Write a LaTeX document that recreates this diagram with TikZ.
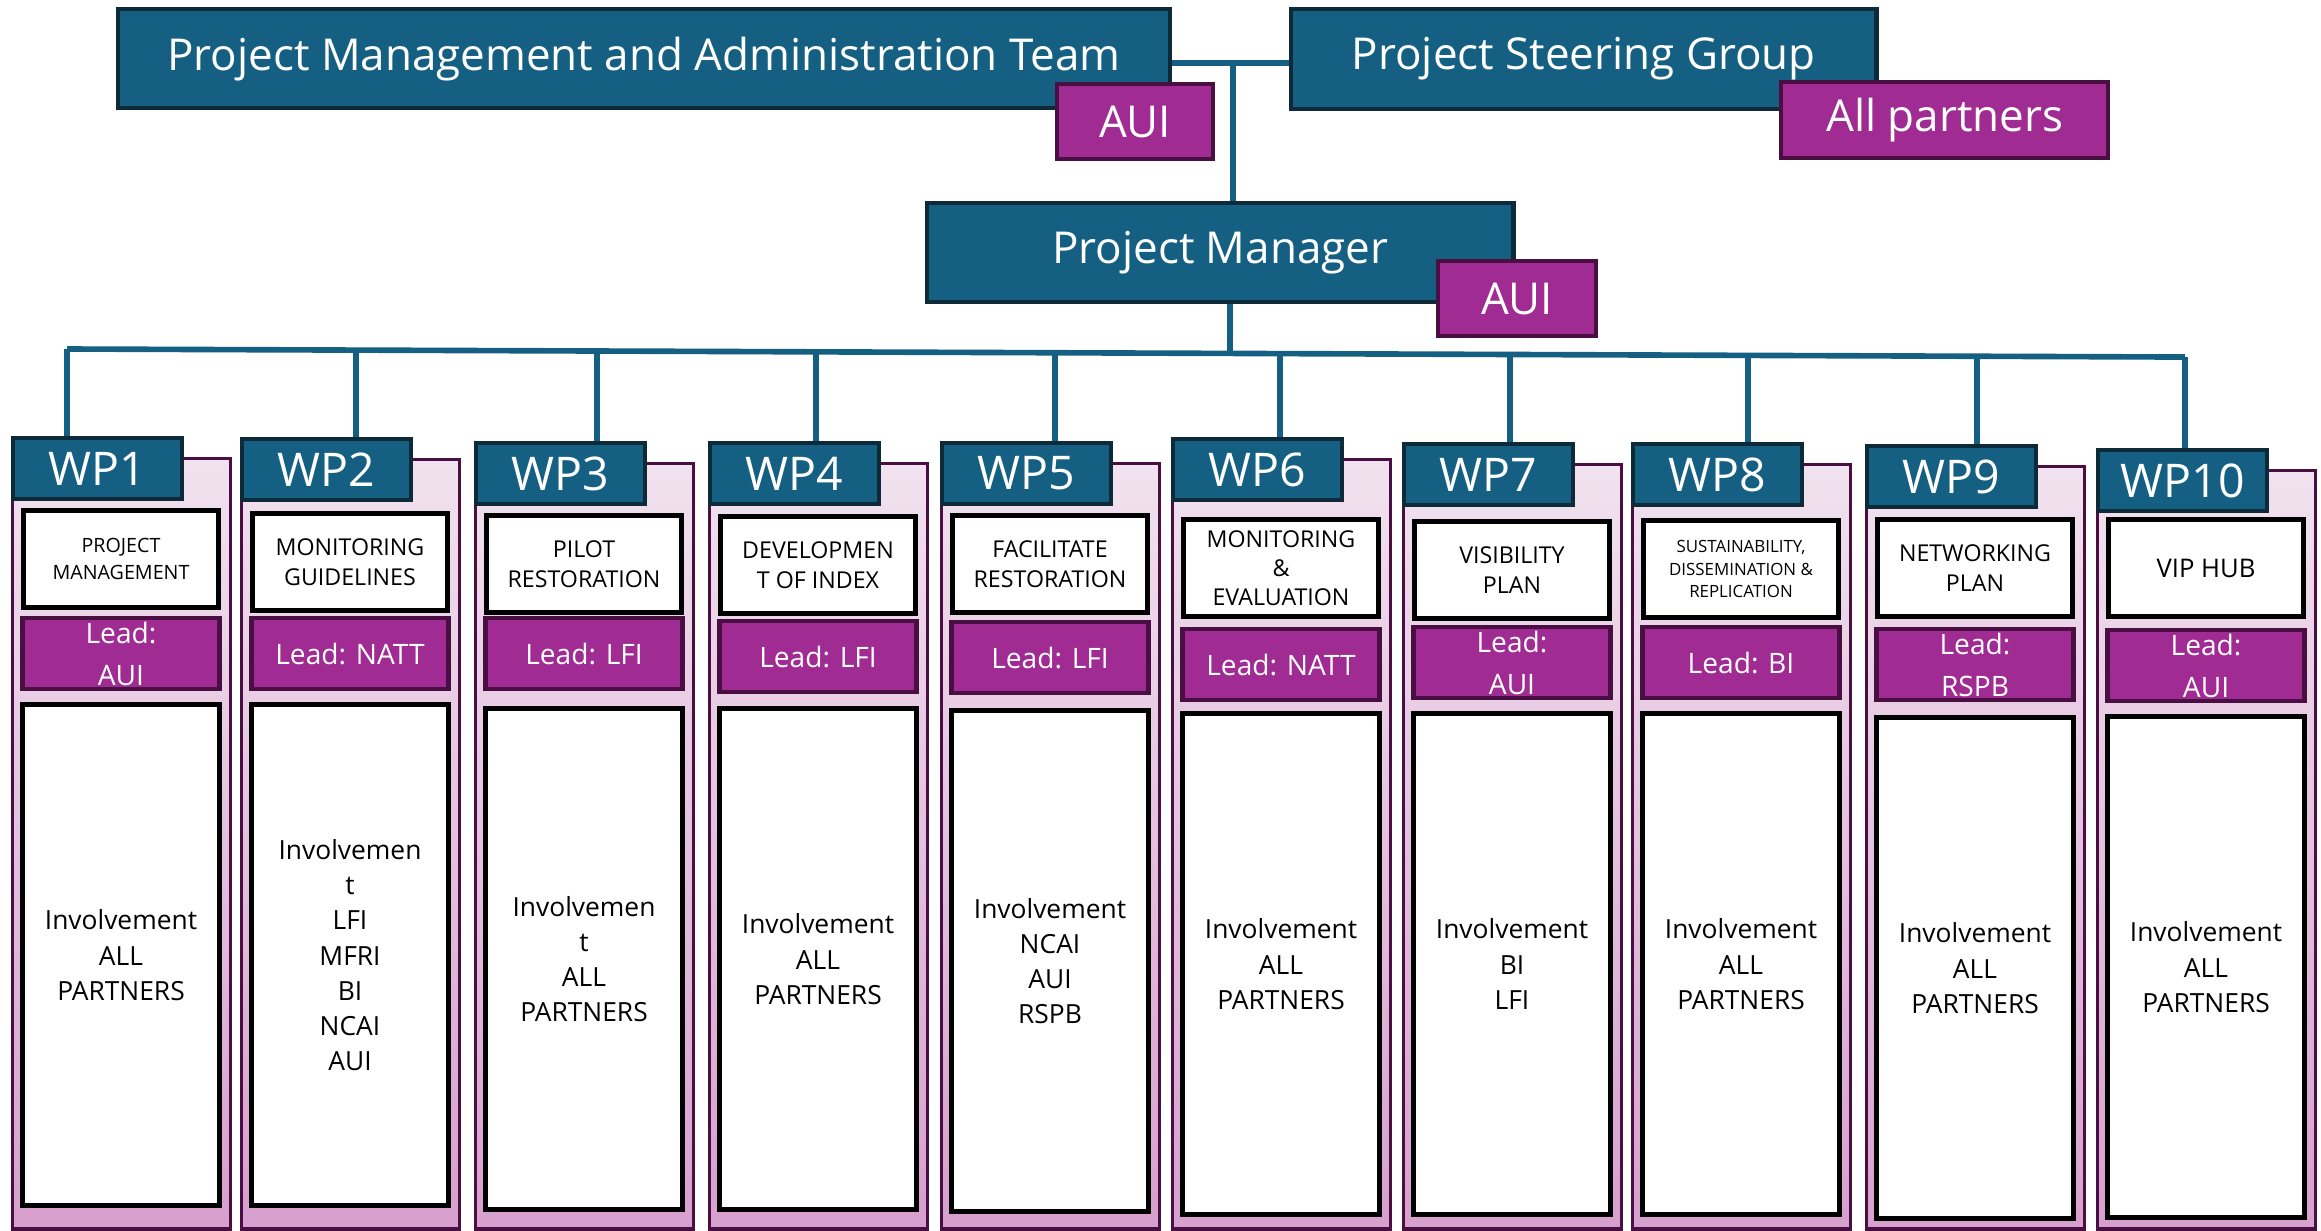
\documentclass[tikz,border=0pt]{standalone}
\usepackage{fontspec}
\setmainfont{Open Sans}
\definecolor{pmblue}{HTML}{156082}
\definecolor{pmdark}{HTML}{0C2A38}
\definecolor{tagpurple}{HTML}{A02B93}
\definecolor{tagdark}{HTML}{4A0F42}
\definecolor{paneltop}{HTML}{F1E2EF}
\definecolor{panelbot}{HTML}{D79FCE}
\tikzset{
  conn/.style={draw=pmblue,line width=1.6pt},
  topbox/.style={draw=pmdark,fill=pmblue,line width=1.2pt,text=white,anchor=north west,inner sep=0pt,
    font=\fontsize{12.5}{14}\selectfont},
  tagbox/.style={draw=tagdark,fill=tagpurple,line width=1.2pt,text=white,anchor=north west,inner sep=0pt,
    font=\fontsize{12.5}{14}\selectfont},
  panel/.style={draw=tagdark,line width=0.9pt,top color=paneltop,bottom color=panelbot,anchor=north west,
    minimum width=2.18cm,inner sep=0pt},
  wphead/.style={topbox,minimum width=1.69cm,minimum height=0.61cm,font=\fontsize{13.2}{15}\selectfont},
  titlebox/.style={draw=black,fill=white,line width=1.4pt,anchor=north,minimum width=1.95cm,minimum height=0.97cm,
    inner sep=0pt,align=center,font=\fontsize{6.6}{8.5}\selectfont},
  leadbox/.style={draw=tagdark,fill=tagpurple,line width=1.2pt,anchor=north,minimum width=1.97cm,minimum height=0.71cm,
    inner sep=0pt,align=center,text=white,font=\fontsize{8}{12}\selectfont},
  invbox/.style={draw=black,fill=white,line width=1.4pt,anchor=north,minimum width=1.97cm,minimum height=5.01cm,
    inner sep=0pt,align=center,font=\fontsize{7.5}{10}\selectfont},
  title1/.style={font=\fontsize{5.6}{7.8}\selectfont},
  title6/.style={font=\fontsize{6.6}{8.2}\selectfont},
  title8/.style={font=\fontsize{4.8}{6.4}\selectfont},
  title10/.style={font=\fontsize{7.3}{9}\selectfont}
}
% #1 number, #2 left, #3 header top, #4 title top, #5 lead top, #6 involvement top
\newcommand{\wpcol}[9]{%
  \pgfmathsetmacro\panelh{(1206-#3)/100}
  \node[panel,minimum height=\panelh cm] (wp#1p) at (#2,#3+21) {};
  \node[wphead] (wp#1) at (#2,#3) {WP#1};
  \node[titlebox,title#1/.try] (wp#1t) at (#2+110,#4) {#7};
  \node[leadbox] (wp#1l) at (#2+110,#5) {#8};
  \node[invbox] (wp#1i) at (#2+110,#6) {#9};
}
\begin{document}
\begin{tikzpicture}[x=0.01cm,y=-0.01cm]
\useasboundingbox (0,0) rectangle (2321,1230);
\node[topbox,minimum width=10.51cm,minimum height=0.99cm] (pmat) at (116,7) {Project Management and Administration Team};
\node[tagbox,minimum width=1.56cm,minimum height=0.75cm] (pmataui) at (1055,82) {AUI};
\node[topbox,minimum width=5.85cm,minimum height=1.0cm] (psg) at (1289,7) {Project Steering Group};
\node[tagbox,minimum width=3.27cm,minimum height=0.76cm] (psgall) at (1779,80) {All partners};
\node[topbox,minimum width=5.86cm,minimum height=0.99cm] (pm) at (925,201) {Project Manager};
\node[tagbox,minimum width=1.58cm,minimum height=0.75cm] (pmaui) at (1436,259) {AUI};

\coordinate (top) at (1233,63);
\draw[conn] (top -| pmat.east) -- (top -| psg.west);
\draw[conn] (top) -- (top |- pm.north);

\wpcol{1}{11}{436}{508}{616}{702}{PROJECT\\MANAGEMENT}{Lead:\\AUI}{Involvement\\ALL\\PARTNERS}
\wpcol{2}{240}{437}{511}{616}{702}{MONITORING\\GUIDELINES}{Lead: NATT}{Involvemen\\t\\LFI\\MFRI\\BI\\NCAI\\AUI}
\wpcol{3}{474}{441}{513}{616}{706}{PILOT\\RESTORATION}{Lead: LFI}{Involvemen\\t\\ALL\\PARTNERS}
\wpcol{4}{708}{441}{514}{619}{706}{DEVELOPMEN\\T OF INDEX}{Lead: LFI}{Involvement\\ALL\\PARTNERS}
\wpcol{5}{940}{441}{513}{620}{708}{FACILITATE\\RESTORATION}{Lead: LFI}{Involvement\\NCAI\\AUI\\RSPB}
\wpcol{6}{1171}{437}{517}{627}{711}{MONITORING\\\&\\EVALUATION}{Lead: NATT}{Involvement\\ALL\\PARTNERS}
\wpcol{7}{1402}{442}{519}{625}{711}{VISIBILITY\\PLAN}{Lead:\\AUI}{Involvement\\BI\\LFI}
\wpcol{8}{1631}{442}{518}{625}{711}{SUSTAINABILITY,\\DISSEMINATION \&\\REPLICATION}{Lead: BI}{Involvement\\ALL\\PARTNERS}
\wpcol{9}{1865}{444}{517}{627}{715}{NETWORKING\\PLAN}{Lead:\\RSPB}{Involvement\\ALL\\PARTNERS}
\wpcol{10}{2096}{448}{517}{628}{714}{VIP HUB}{Lead:\\AUI}{Involvement\\ALL\\PARTNERS}

\foreach \i/\dx in {1/67,2/356,3/597,4/816,5/1055,6/1280,7/1510,8/1748,9/1977,10/2185}{
  \coordinate (b\i) at (\dx,{349+(\dx-67)*0.0038});
  \draw[conn] (b\i) -- (b\i |- wp\i.north);
}
\draw[conn] (b1) -- (b10);
\coordinate (pmdrop) at (1230,352.8);
\draw[conn] (pmdrop |- pm.south) -- (pmdrop);
\end{tikzpicture}
\end{document}
